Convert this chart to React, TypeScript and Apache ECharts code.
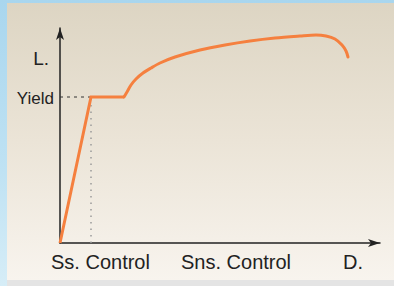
import React, { useEffect, useRef } from "react";
import * as echarts from "echarts";

// Load-deformation curve (x: deformation, y: load), in chart units
const elasticPlateau: [number, number][] = [
  [0, 0],
  [31, 146],
  [64, 146],
];
const hardeningCurve: [number, number][] = [
  [64, 146],
  [67, 151],
  [71, 158],
  [76, 164],
  [83, 170],
  [91, 175],
  [100, 180],
  [115, 186],
  [140, 193],
  [165, 198],
  [190, 202],
  [215, 205],
  [240, 207],
  [256, 208],
  [266, 207],
  [275, 204],
  [282, 198],
  [286, 192],
  [288, 186],
];
const yieldLevel = 146;
const yieldDeform = 31;
const xMax = 320;
const yMax = 215;

const yLabels = ["L.", "Yield"];
const xLabels = ["Ss. Control", "Sns. Control", "D."];

const FONT = "'Liberation Sans', Arial, sans-serif";

export default function App() {
  const ref = useRef<HTMLDivElement>(null);
  useEffect(() => {
    if (!ref.current) return;
    const chart = echarts.init(ref.current, undefined, { renderer: "svg" });
    const textStyle = (size: number) => ({ fill: "#222", fontSize: size, fontFamily: FONT });
    chart.setOption({
      animation: false,
      backgroundColor: "transparent",
      grid: { left: 60, right: 14, top: 28, bottom: 43, containLabel: false },
      xAxis: {
        type: "value",
        min: 0,
        max: xMax,
        axisLine: { show: true, lineStyle: { color: "#222", width: 1.5 }, symbol: ["none", "arrow"], symbolSize: [6, 12] },
        axisTick: { show: false },
        axisLabel: { show: false },
        splitLine: { show: false },
      },
      yAxis: {
        type: "value",
        min: 0,
        max: yMax,
        axisLine: { show: true, lineStyle: { color: "#222", width: 1.5 }, symbol: ["none", "arrow"], symbolSize: [6, 12] },
        axisTick: { show: false },
        axisLabel: { show: false },
        splitLine: { show: false },
      },
      series: [
        {
          type: "line",
          data: [[0, yieldLevel], [yieldDeform, yieldLevel]],
          symbol: "none",
          lineStyle: { color: "#333", width: 1, type: [3, 4] },
          z: 1,
        },
        {
          type: "line",
          data: [[yieldDeform, 0], [yieldDeform, yieldLevel]],
          symbol: "none",
          lineStyle: { color: "#9a9a9a", width: 1.5, type: [1.5, 5] },
          z: 1,
        },
        {
          type: "line",
          data: elasticPlateau,
          symbol: "none",
          lineStyle: { color: "#f5803f", width: 3, join: "miter" },
          z: 3,
        },
        {
          type: "line",
          data: hardeningCurve,
          symbol: "none",
          smooth: 0.3,
          lineStyle: { color: "#f5803f", width: 3, cap: "round" },
          z: 3,
        },
      ],
      graphic: [
        { type: "text", x: 49, y: 58, style: { text: yLabels[0], ...textStyle(19), align: "right", verticalAlign: "middle" } },
        { type: "text", x: 54, y: 98, style: { text: yLabels[1], ...textStyle(17), align: "right", verticalAlign: "middle" } },
        { type: "text", x: 51, y: 262, style: { text: xLabels[0], ...textStyle(20), align: "left", verticalAlign: "middle" } },
        { type: "text", x: 181, y: 262, style: { text: xLabels[1], ...textStyle(20), align: "left", verticalAlign: "middle" } },
        { type: "text", x: 343, y: 262, style: { text: xLabels[2], ...textStyle(20), align: "left", verticalAlign: "middle" } },
      ],
    });
    return () => chart.dispose();
  }, []);

  return (
    <div
      style={{
        position: "fixed",
        left: 0,
        top: 0,
        width: 394,
        height: 286,
        overflow: "hidden",
        background: "linear-gradient(180deg, #a9d6ee 0%, #bfe2f3 60%, #d6edf7 100%)",
      }}
    >
      <div
        style={{
          position: "absolute",
          left: 7,
          top: 3,
          width: 387,
          height: 277,
          background: "linear-gradient(180deg, #ddd5c3 0%, #ebe4d7 50%, #f8f4ee 100%)",
        }}
      />
      <div style={{ position: "absolute", left: 7, top: 280, width: 387, height: 6, background: "#e4e4e4" }} />
      <div ref={ref} style={{ position: "absolute", left: 0, top: 0, width: 394, height: 286 }} />
    </div>
  );
}
